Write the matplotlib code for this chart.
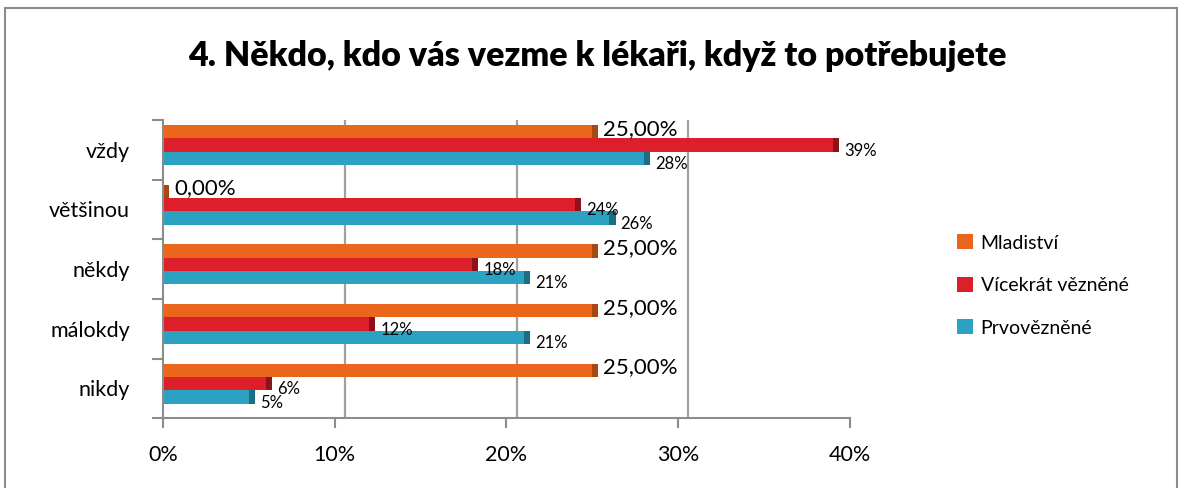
import numpy as np
import matplotlib
matplotlib.use("Agg")
import matplotlib.pyplot as plt

# ---- data ----
categories = ["vždy", "většinou", "někdy", "málokdy", "nikdy"]
series_names = ["Mladiství", "Vícekrát vězněné", "Prvovězněné"]
mladistvi = [25, 0, 25, 25, 25]
vicekrat = [39, 24, 18, 12, 6]
prvo = [28, 26, 21, 21, 5]
mladistvi_labels = ["25,00%", "0,00%", "25,00%", "25,00%", "25,00%"]
vicekrat_labels = ["39%", "24%", "18%", "12%", "6%"]
prvo_labels = ["28%", "26%", "21%", "21%", "5%"]
x_ticks = [0, 10, 20, 30, 40]
x_ticklabels = ["0%", "10%", "20%", "30%", "40%"]

colors = ["#EA661D", "#DC1F2A", "#2BA2C1"]
dark = ["#A8470F", "#8E1219", "#1B6E84"]

plt.rcParams['font.family'] = ['Lato', 'DejaVu Sans']

fig = plt.figure(figsize=(11.82, 4.88), dpi=100)
fig.patch.set_facecolor("white")

# outer chart border
border = plt.Rectangle((0.004, -0.05), 0.992, 1.033, transform=fig.transFigure,
                       fill=False, edgecolor="#8c8c8c", lw=1.5)
fig.add_artist(border)

ax = fig.add_axes([0.138, 0.143, 0.581, 0.611])
y = np.arange(len(categories))
h = 0.225
off = -0.08
data = [mladistvi, vicekrat, prvo]
labels = [mladistvi_labels, vicekrat_labels, prvo_labels]

for gx in x_ticks[1:]:
    ax.axvline(gx + 0.6, color="#a0a0a0", lw=1.6, zorder=0)

for k, (vals, col, dk) in enumerate(zip(data, colors, dark)):
    pos = y + off + (k - 1) * h
    ax.barh(pos, vals, height=h, color=col, zorder=2, label=series_names[k])
    # darker end cap for a little depth
    ax.barh(pos, [0.35] * len(vals), left=vals, height=h, color=dk, zorder=2)
    for i, v in enumerate(vals):
        if k == 0:
            ax.annotate(labels[k][i], (v, pos[i]), xytext=(8, 2),
                        textcoords="offset points", fontsize=16,
                        va="center", ha="left", zorder=4)
        else:
            ax.annotate(labels[k][i], (v, pos[i]), xytext=(8, -4),
                        textcoords="offset points", fontsize=12,
                        va="center", ha="left", zorder=4)

ax.set_xlim(0, 40)
ax.set_ylim(len(categories) - 0.5, -0.5)
ax.set_xticks(x_ticks)
ax.set_xticklabels(x_ticklabels, fontsize=15.5)
ax.set_yticks(y)
ax.set_yticklabels(categories, fontsize=15.5)
ax.set_yticks(np.arange(len(categories) + 1) - 0.5, minor=True)
ax.tick_params(axis="y", which="major", length=0, pad=24)
ax.tick_params(axis="y", which="minor", length=8, color="#8c8c8c", width=1.5)
ax.tick_params(axis="x", length=7, color="#8c8c8c", width=1.5, pad=12)
for s in ["top", "right"]:
    ax.spines[s].set_visible(False)
for s in ["left", "bottom"]:
    ax.spines[s].set_color("#8c8c8c")
    ax.spines[s].set_linewidth(1.5)

fig.text(0.505, 0.885, "4. Někdo, kdo vás vezme k lékaři, když to potřebujete",
         ha="center", va="center", fontsize=24.5, fontweight="heavy")

handles, lbls = ax.get_legend_handles_labels()
fig.legend(handles, lbls, loc="center left", bbox_to_anchor=(0.795, 0.415),
           frameon=False, fontsize=14, handlelength=0.8, handleheight=0.8,
           labelspacing=1.3, handletextpad=0.4)

plt.savefig("out.png", dpi=100)
